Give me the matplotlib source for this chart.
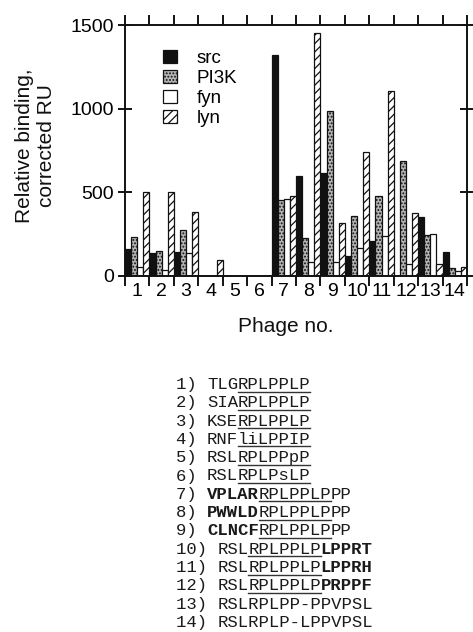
import matplotlib
matplotlib.use("Agg")
import matplotlib.pyplot as plt
from matplotlib.lines import Line2D
import numpy as np

# ─── DATA ───────────────────────────────────────────────────────────────────
phage = ["1", "2", "3", "4", "5", "6", "7", "8", "9", "10", "11", "12", "13", "14"]
src  = [159, 135, 141, 0, 0, 0, 1321, 600, 614, 120, 209, 0, 355, 143]
pi3k = [231, 151, 273, 0, 0, 0, 454, 225, 986, 359, 480, 687, 245, 46]
fyn  = [56, 36, 135, 0, 0, 0, 460, 86, 86, 165, 241, 70, 249, 32]
lyn  = [502, 502, 382, 94, 0, 0, 480, 1450, 315, 743, 1108, 378, 70, 56]

series_names = ["src", "PI3K", "fyn", "lyn"]

# peptide sequences: (text, style)  n = normal, u = underlined, b = bold
sequences = [
    [("TLG", "n"), ("RPLPPLP", "u")],
    [("SIA", "n"), ("RPLPPLP", "u")],
    [("KSE", "n"), ("RPLPPLP", "u")],
    [("RNF", "n"), ("liLPPIP", "u")],
    [("RSL", "n"), ("RPLPPpP", "u")],
    [("RSL", "n"), ("RPLPsLP", "u")],
    [("VPLAR", "b"), ("RPLPPLP", "u"), ("PP", "n")],
    [("PWWLD", "b"), ("RPLPPLP", "u"), ("PP", "n")],
    [("CLNCF", "b"), ("RPLPPLP", "u"), ("PP", "n")],
    [("RSL", "n"), ("RPLPPLP", "u"), ("LPPRT", "b")],
    [("RSL", "n"), ("RPLPPLP", "u"), ("LPPRH", "b")],
    [("RSL", "n"), ("RPLPPLP", "u"), ("PRPPF", "b")],
    [("RSLRPLPP-PPVPSL", "n")],
    [("RSLRPLP-LPPVPSL", "n")],
]

# ─── FIGURE ─────────────────────────────────────────────────────────────────
W, H, DPI = 473, 632, 100
fig = plt.figure(figsize=(W / DPI, H / DPI), dpi=DPI)
fig.patch.set_facecolor("white")
plt.rcParams["font.family"] = ["Liberation Sans", "DejaVu Sans"]
plt.rcParams["hatch.linewidth"] = 0.9

ax = fig.add_axes([125 / W, 1 - 276 / H, (467 - 125) / W, (276 - 25) / H])

n = len(phage)
x = np.arange(n)
bw = 0.25
styles = [
    dict(facecolor="#111111", hatch=None),
    dict(facecolor="#b4b4b4", hatch="....."),
    dict(facecolor="white", hatch=None),
    dict(facecolor="white", hatch="////"),
]
for j, (vals, name) in enumerate(zip([src, pi3k, fyn, lyn], series_names)):
    ax.bar(x + bw * (j + 0.5), vals, width=bw, align="center",
           edgecolor="#111111", linewidth=0.9, label=name, **styles[j])

ax.set_xlim(0, n)
ax.set_ylim(0, 1500)

# integer ticks at group boundaries, labels at group centres
ax.set_xticks(np.arange(0, n + 1))
ax.set_xticklabels([])
ax.set_xticks(x + 0.5, minor=True)
ax.set_xticklabels(phage, minor=True, fontsize=14)
ax.tick_params(axis="x", which="minor", length=0, pad=5)
ax.tick_params(axis="x", which="major", direction="out", length=7, width=1.3,
               top=True, bottom=True)
ax.set_yticks([0, 500, 1000, 1500])
ax.tick_params(axis="y", which="major", direction="inout", length=10, width=1.3,
               labelsize=14, pad=3, right=True)
for sp in ax.spines.values():
    sp.set_linewidth(1.4)
    sp.set_color("#111111")

leg = ax.legend(loc="upper left", bbox_to_anchor=(0.11, 0.902), frameon=False,
                fontsize=13.5, handlelength=0.75, handleheight=0.75,
                handletextpad=1.05, labelspacing=0.14, borderaxespad=0,
                borderpad=0)

fig.text(35 / W, 1 - 146 / H, "Relative binding,\ncorrected RU", rotation=90,
         ha="center", va="center", multialignment="center", fontsize=15,
         linespacing=1.2, color="#111111")
fig.text(286 / W, 1 - 326 / H, "Phage no.", ha="center", va="center",
         fontsize=15, color="#111111")

# ─── SEQUENCE LIST ──────────────────────────────────────────────────────────
mono = "Liberation Mono"
fs = 12.4
adv = 0.6 * fs * DPI / 72.0          # character advance in px
x0 = 176.0
base0 = 389.0
step = 18.3
for i, segs in enumerate(sequences):
    yb = base0 + i * step
    prefix = f"{i + 1}) "
    fig.text(x0 / W, 1 - yb / H, prefix, family=mono, fontsize=fs,
             va="baseline", ha="left", color="#1a1a1a")
    col = len(prefix)
    for txt, st in segs:
        xs = x0 + col * adv
        fig.text(xs / W, 1 - yb / H, txt, family=mono, fontsize=fs,
                 va="baseline", ha="left", color="#1a1a1a",
                 fontweight="bold" if st == "b" else "normal")
        if st == "u":
            yu = 1 - (yb + 2.5) / H
            fig.add_artist(Line2D([xs / W, (xs + len(txt) * adv) / W], [yu, yu],
                                  transform=fig.transFigure, color="#333333",
                                  linewidth=1.0))
        col += len(txt)

fig.savefig("out.png", dpi=DPI)
